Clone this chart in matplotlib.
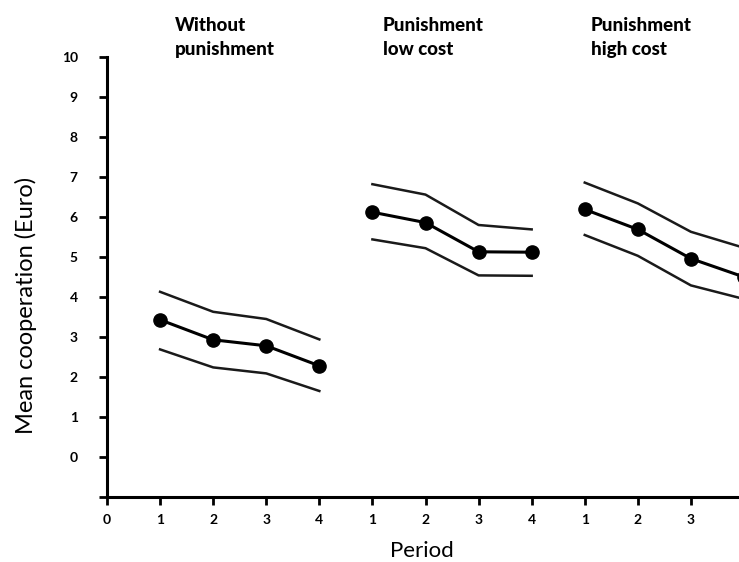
import numpy as np
import matplotlib.pyplot as plt
from matplotlib.transforms import ScaledTranslation

# mean cooperation per period, with upper / lower confidence bands
periods = [1, 2, 3, 4]
groups = ['Without\npunishment', 'Punishment\nlow cost', 'Punishment\nhigh cost']

mean_none = [3.43, 2.93, 2.78, 2.28]
upper_none = [4.13, 3.63, 3.45, 2.94]
lower_none = [2.69, 2.24, 2.09, 1.65]

mean_low = [6.12, 5.86, 5.13, 5.12]
upper_low = [6.82, 6.56, 5.80, 5.69]
lower_low = [5.44, 5.22, 4.54, 4.53]

mean_high = [6.19, 5.69, 4.96, 4.50]
upper_high = [6.86, 6.34, 5.63, 5.23]
lower_high = [5.55, 5.03, 4.29, 3.95]

means = [mean_none, mean_low, mean_high]
uppers = [upper_none, upper_low, upper_high]
lowers = [lower_none, lower_low, lower_high]

fig = plt.figure(figsize=(7.39, 5.62), dpi=100)
ax = fig.add_axes([107 / 739, 65 / 562, 637 / 739, 440 / 562])

for i in range(3):
    x = np.array(periods) + 4 * i
    ax.plot(x, uppers[i], color='#1a1a1a', lw=1.8, clip_on=False)
    ax.plot(x, lowers[i], color='#1a1a1a', lw=1.8, clip_on=False)
    ax.plot(x, means[i], color='black', lw=2.2, marker='o', ms=9.5,
            clip_on=False)
    ax.text(periods[0] + 4 * i + 0.28 - 0.08 * i, 1.092, groups[i],
            transform=ax.get_xaxis_transform(), ha='left', va='top',
            fontsize=13.5, fontweight='black', family='Lato',
            linespacing=1.55)

ax.set_xlim(0, 12)
ax.set_ylim(-1, 10)

xticks = np.arange(0, 13)
xlabels = ['0'] + [str(p) for p in periods] * 3
ax.set_xticks(xticks)
ax.set_xticklabels(xlabels)
yticks = np.arange(-1, 11)
ax.set_yticks(yticks)
ax.set_yticklabels([''] + [str(v) for v in yticks[1:]])

shift = ScaledTranslation(-0.04, 0, fig.dpi_scale_trans)
for lab in ax.get_xticklabels():
    lab.set_transform(lab.get_transform() + shift)
for lab in ax.get_xticklabels() + ax.get_yticklabels():
    lab.set_fontweight('bold')
    lab.set_family('Lato')
    lab.set_fontsize(10)

ax.tick_params(axis='x', length=6, width=2, pad=6)
ax.tick_params(axis='y', length=6, width=2, pad=15)

ax.spines['top'].set_visible(False)
ax.spines['right'].set_visible(False)
ax.spines['left'].set_linewidth(2.2)
ax.spines['bottom'].set_linewidth(2.2)

ax.set_ylabel('Mean cooperation (Euro)', family='Lato', fontsize=17)
ax.yaxis.set_label_coords(-0.11, 0.436)
ax.set_xlabel('Period', family='Lato', fontsize=16)
ax.xaxis.set_label_coords(0.4945, -0.100)

fig.savefig('out.png', dpi=100)
